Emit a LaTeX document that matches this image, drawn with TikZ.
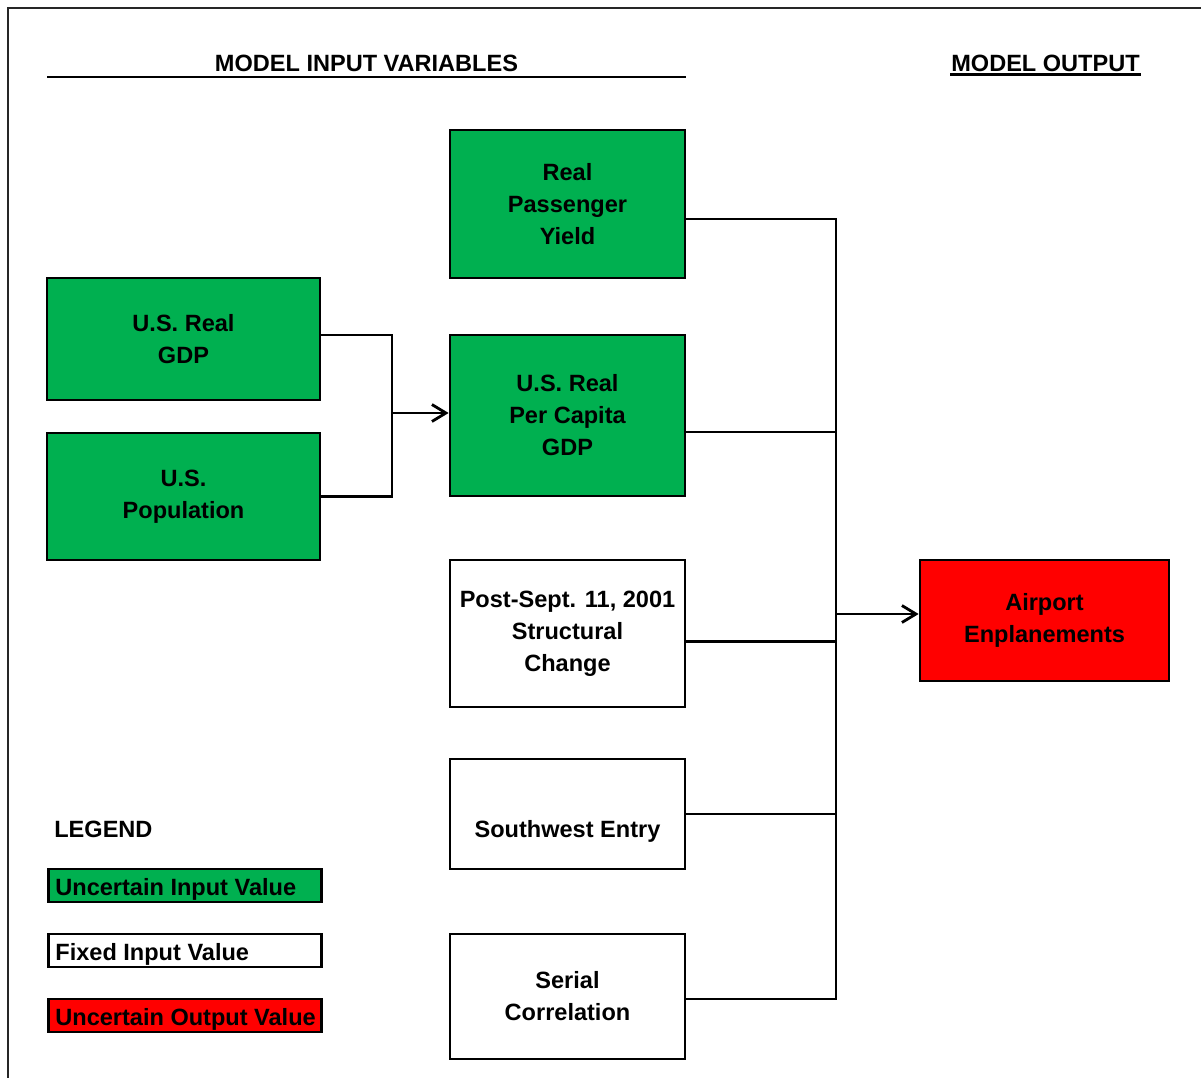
\documentclass[tikz,border=0pt]{standalone}
\usepackage{fontspec}
\setmainfont{Liberation Sans}
\usetikzlibrary{arrows.meta}
\definecolor{ingreen}{RGB}{0,176,80}
\definecolor{outred}{RGB}{255,0,0}
\newcommand{\legitem}[1]{\makebox[5.18cm][l]{#1}}

\begin{document}
\begin{tikzpicture}[x=0.02cm, y=-0.02cm,
    every node/.style={font=\fontsize{13.4}{18.2}\selectfont\bfseries},
    var/.style={draw, line width=1.6pt, align=center, minimum width=4.7cm, inner sep=0pt},
    invar/.style={var, fill=ingreen},
    fixvar/.style={var, fill=white},
    outvar/.style={var, fill=outred},
    legbox/.style={draw, line width=1.6pt, inner xsep=0.14cm, inner ysep=0pt,
      minimum height=0.66cm, text height=0.45cm, text depth=0.05cm, anchor=west},
    link/.style={line width=1.6pt},
    >={Straight Barb[length=0.28cm, width=0.34cm]}]
  \useasboundingbox (0,0) rectangle (1201,1078);
  \draw [line width=1.2pt, black!85] (8,1078) -- (8,8) -- (1201,8);

  \node [anchor=base] (inhead) at (366.5,72) {MODEL INPUT VARIABLES};
  \draw [line width=1.7pt] (47,77) -- (686,77);
  \node [anchor=base] (outhead) at (1045.5,72) {MODEL OUTPUT};
  \draw [line width=1.7pt] (950,74.5) -- (1141,74.5);

  \node [invar, minimum height=2.96cm] (yield) at (567.5,204) {Real\\Passenger\\Yield};
  \node [invar, minimum width=5.46cm, minimum height=2.44cm] (gdp) at (183.5,339) {U.S. Real\\GDP};
  \node [invar, minimum width=5.46cm, minimum height=2.54cm] (pop) at (183.5,496.5) {U.S.\\Population};
  \node [invar, minimum height=3.22cm] (pcgdp) at (567.5,415.5) {U.S. Real\\Per Capita\\GDP};
  \node [fixvar, minimum height=2.94cm] (sept) at (567.5,633.5) {Post-Sept. 11, 2001\\Structural\\Change};
  \node [fixvar, minimum height=2.2cm, text height=1cm, text depth=0.06cm] (sw) at (567.5,814) {Southwest Entry};
  \node [fixvar, minimum height=2.5cm] (serial) at (567.5,996.5) {Serial\\Correlation};
  \node [outvar, minimum width=4.98cm, minimum height=2.42cm] (enpl) at (1044.5,620.5) {Airport\\Enplanements};

  \coordinate (join) at (392,413);
  \coordinate (bus) at (836,614);
  \path ([yshift=0.08cm]gdp.east) coordinate (gdpout);
  \draw [link] (gdpout) -| (join) |- (pop.east);
  \draw [link, ->] (join) -- (join -| pcgdp.west);
  \draw [link] ([yshift=-0.3cm]yield.east) -| (bus) |- ([yshift=-0.05cm]serial.east);
  \path ([yshift=-0.33cm]pcgdp.east) coordinate (pcout);
  \draw [link] (pcout) -- (pcout -| bus);
  \path ([yshift=-0.16cm]sept.east) coordinate (septout);
  \draw [link] (septout) -- (septout -| bus);
  \draw [link] (sw.east) -- (sw.east -| bus);
  \draw [link, ->] (bus) -- (bus -| enpl.west);

  \node [anchor=west, inner sep=0pt] (legend) at (54,829) {LEGEND};
  \node [legbox, fill=ingreen] (legin) at (47,885.5) {\legitem{Uncertain Input Value}};
  \node [legbox, fill=white] (legfix) at (47,950.5) {\legitem{Fixed Input Value}};
  \node [legbox, fill=outred] (legout) at (47,1015.5) {\legitem{Uncertain Output Value}};
\end{tikzpicture}
\end{document}
